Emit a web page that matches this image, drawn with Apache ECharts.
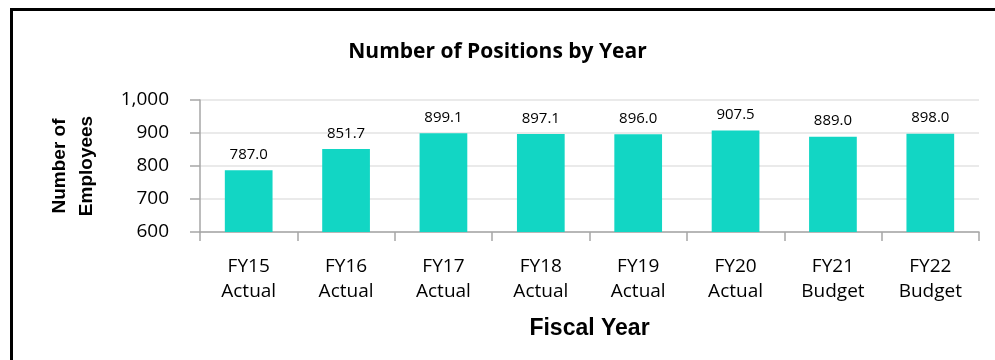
<!DOCTYPE html>
<html>
<head>
<meta charset="utf-8">
<script src="https://cdn.jsdelivr.net/npm/echarts@6/dist/echarts.min.js"></script>
<style>
  html, body { margin: 0; padding: 0; background: #fff; }
  #wrap { position: relative; width: 995px; height: 360px; overflow: hidden; }
  #frame { position: absolute; left: 10px; top: 8px; width: 1000px; height: 400px;
           border-left: 3px solid #000; border-top: 3px solid #000; box-sizing: border-box; }
  #chart { position: absolute; left: 0; top: 0; width: 995px; height: 360px; }
</style>
</head>
<body>
<div id="wrap">
  <div id="frame"></div>
  <div id="chart"></div>
</div>
<script>
// data
const categories = ["FY15\nActual", "FY16\nActual", "FY17\nActual", "FY18\nActual",
                    "FY19\nActual", "FY20\nActual", "FY21\nBudget", "FY22\nBudget"];
const positions = [787.0, 851.7, 899.1, 897.1, 896.0, 907.5, 889.0, 898.0];
const yTicks = [600, 700, 800, 900, 1000];

const chart = echarts.init(document.getElementById("chart"));
const option = {
  animation: false,
  title: {
    text: "Number of Positions by Year",
    left: "center",
    top: 37,
    textStyle: { fontFamily: "Open Sans", fontWeight: "bold", fontSize: 21, color: "#000" }
  },
  grid: { left: 200, right: 16, top: 100, bottom: 128 },
  xAxis: {
    type: "category",
    data: categories,
    name: "Fiscal Year",
    nameLocation: "middle",
    nameGap: 85,
    nameTextStyle: { fontFamily: "Liberation Sans", fontWeight: "bold", fontSize: 23, color: "#000" },
    axisLine: { lineStyle: { color: "#a6a6a6", width: 1.5 } },
    axisTick: { show: true, length: 9, lineStyle: { color: "#a6a6a6", width: 1.5 } },
    axisLabel: { fontFamily: "Open Sans", fontSize: 19, color: "#000", lineHeight: 25, margin: 22 }
  },
  yAxis: {
    type: "value",
    min: yTicks[0],
    max: yTicks[yTicks.length - 1],
    interval: 100,
    name: "Number of\nEmployees",
    nameLocation: "middle",
    nameRotate: 90,
    nameGap: 100,
    nameTextStyle: { fontFamily: "Liberation Sans", fontWeight: "bold", fontSize: 19, color: "#000", lineHeight: 27 },
    axisLine: { show: true, lineStyle: { color: "#a6a6a6", width: 1.5 } },
    axisTick: { show: true, length: 10, lineStyle: { color: "#a6a6a6", width: 1.5 } },
    splitLine: { lineStyle: { color: "#e3e3e3", width: 1.5 } },
    axisLabel: {
      fontFamily: "Open Sans", fontSize: 19, color: "#000", margin: 31,
      formatter: v => v.toLocaleString("en-US")
    }
  },
  series: [{
    type: "bar",
    data: positions,
    barWidth: "49%",
    itemStyle: { color: "#12d6c4" },
    label: {
      show: true,
      position: "top",
      distance: 8,
      fontFamily: "Open Sans",
      fontSize: 15,
      color: "#000",
      formatter: p => p.value.toFixed(1)
    }
  }]
};
chart.setOption(option);
</script>
</body>
</html>
